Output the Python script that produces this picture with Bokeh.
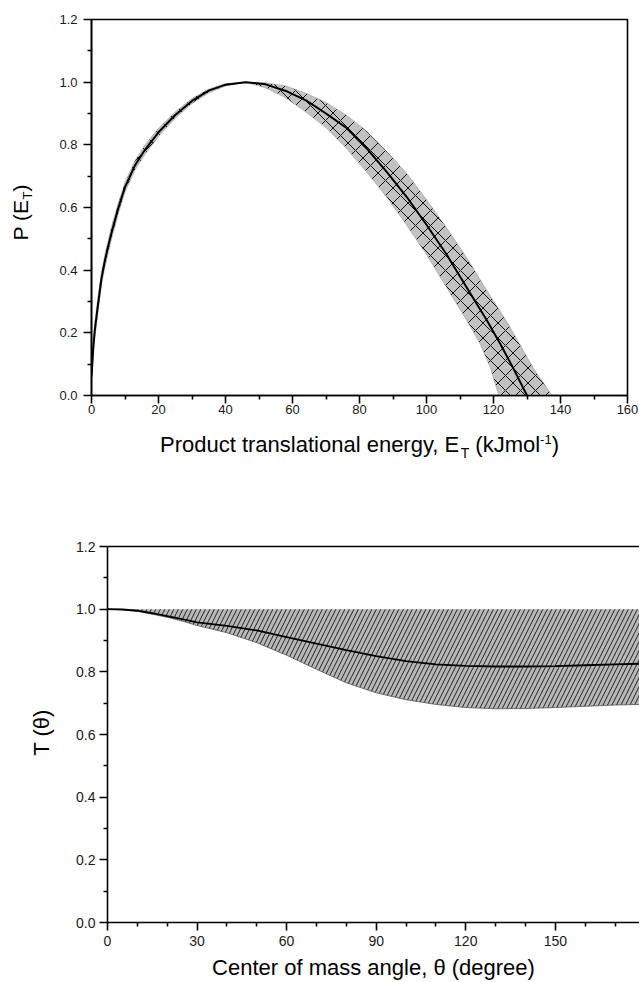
import math
from bokeh.plotting import figure
from bokeh.models import FixedTicker, Label, LinearAxis, Range1d
from bokeh.layouts import column, row
from bokeh.embed import file_html
from bokeh.resources import INLINE

# ---------------- data: upper panel, P(E_T) ----------------
energy_center = [0, 0.5, 1, 2, 3, 4, 5, 6, 8, 10, 13, 16, 20, 25, 30, 35, 40, 46,
                 52, 58, 64, 70, 76, 82, 88, 94, 100, 106, 112, 118, 122, 126, 130]
p_center = [0.06, 0.15, 0.21, 0.295, 0.375, 0.43, 0.477, 0.52, 0.598, 0.665, 0.735, 0.785,
            0.84, 0.895, 0.94, 0.973, 0.992, 1.0, 0.993, 0.972, 0.942, 0.90, 0.855, 0.79,
            0.715, 0.635, 0.545, 0.45, 0.345, 0.24, 0.165, 0.085, 0.0]

energy_outer = [0, 1, 2, 3, 4, 6, 8, 10, 13, 16, 20, 25, 30, 35, 40, 46,
                52, 58, 64, 70, 76, 82, 88, 94, 100, 106, 112, 118, 124, 128, 132, 137.5]
p_outer = [0.08, 0.235, 0.32, 0.395, 0.45, 0.54, 0.615, 0.68, 0.75, 0.80, 0.853, 0.905,
           0.948, 0.978, 0.995, 1.0, 0.998, 0.988, 0.965, 0.935, 0.895, 0.845, 0.78,
           0.71, 0.625, 0.535, 0.44, 0.335, 0.235, 0.16, 0.085, 0.0]

energy_inner = [0, 1, 2, 3, 4, 6, 8, 10, 13, 16, 20, 25, 30, 35, 40, 46,
                52, 58, 64, 70, 76, 82, 88, 94, 100, 106, 112, 116, 119, 121.6]
p_inner = [0.04, 0.185, 0.27, 0.355, 0.41, 0.50, 0.58, 0.65, 0.72, 0.77, 0.827, 0.885,
           0.932, 0.966, 0.988, 1.0, 0.982, 0.95, 0.905, 0.855, 0.79, 0.715, 0.635,
           0.545, 0.45, 0.345, 0.24, 0.165, 0.09, 0.0]

energy_ticks = [0, 20, 40, 60, 80, 100, 120, 140, 160]
energy_minor = [10, 30, 50, 70, 90, 110, 130, 150]
p_ticks = [0.0, 0.2, 0.4, 0.6, 0.8, 1.0, 1.2]
p_tick_labels = ["0.0", "0.2", "0.4", "0.6", "0.8", "1.0", "1.2"]
p_minor = [0.1, 0.3, 0.5, 0.7, 0.9, 1.1]

# ---------------- data: lower panel, T(theta) ----------------
theta = [0, 5, 10, 15, 20, 25, 30, 40, 50, 60, 70, 80, 90, 100, 110, 120, 130,
         140, 150, 160, 170, 179]
t_center = [1.0, 0.999, 0.995, 0.987, 0.978, 0.968, 0.958, 0.947, 0.932, 0.911, 0.89,
            0.869, 0.85, 0.834, 0.824, 0.819, 0.817, 0.817, 0.818, 0.821, 0.824, 0.826]
t_lower = [1.0, 0.999, 0.993, 0.984, 0.974, 0.962, 0.948, 0.925, 0.893, 0.853, 0.808,
           0.765, 0.733, 0.711, 0.696, 0.686, 0.682, 0.683, 0.686, 0.69, 0.694, 0.696]
t_upper = [1.0, 1.0, 1.0, 1.0, 1.0, 1.0, 1.0, 1.0, 1.0, 1.0, 1.0,
           1.0, 1.0, 1.0, 1.0, 1.0, 1.0, 1.0, 1.0, 1.0, 1.0, 1.0]

theta_ticks = [0, 30, 60, 90, 120, 150, 180]
theta_minor = [10, 20, 40, 50, 70, 80, 100, 110, 130, 140, 160, 170]
t_ticks = [0.0, 0.2, 0.4, 0.6, 0.8, 1.0, 1.2]
t_tick_labels = ["0.0", "0.2", "0.4", "0.6", "0.8", "1.0", "1.2"]
t_minor = [0.1, 0.3, 0.5, 0.7, 0.9, 1.1]

# ---------------- styling helpers ----------------
FONT = "Liberation Sans"
MID = 0.3465  # distance baseline -> em-box middle, in em
# Arial / Liberation Sans advance widths (per 1000 em), for placing sub/superscripts
ADV = {" ": 278, ",": 278, "(": 333, ")": 333, "-": 333, "1": 556, "P": 667, "E": 667,
       "T": 611, "J": 500, "r": 333, "o": 556, "d": 556, "u": 556, "c": 500, "t": 278,
       "a": 556, "n": 556, "s": 500, "l": 222, "i": 222, "e": 556, "g": 556, "y": 500,
       "k": 500, "m": 833}


def text_width(s, size):
    return sum(ADV.get(ch, 556) for ch in s) * size / 1000.0


def style_axes(p, xt, xminor, yt, ylabels, yminor, size, xstand, ystand):
    p.xaxis.ticker = FixedTicker(ticks=xt, minor_ticks=xminor)
    p.yaxis.ticker = FixedTicker(ticks=yt, minor_ticks=yminor)
    p.yaxis.major_label_overrides = {v: lab for v, lab in zip(yt, ylabels)}
    for ax in (p.xaxis[0], p.yaxis[0]):
        ax.axis_line_width = 1.6
        ax.axis_line_color = "black"
        ax.major_tick_line_width = 1.6
        ax.minor_tick_line_width = 1.6
        ax.major_tick_line_color = "black"
        ax.minor_tick_line_color = "black"
        ax.major_tick_out = 8
        ax.major_tick_in = 0
        ax.minor_tick_out = 4
        ax.minor_tick_in = 0
        ax.major_label_text_font = FONT
        ax.major_label_text_font_size = size
        ax.major_label_text_color = "#1a1a1a"
    p.xaxis.major_label_standoff = xstand
    p.yaxis.major_label_standoff = ystand
    p.grid.visible = False


def text_fig(w, h):
    f = figure(width=w, height=h, x_range=Range1d(0, w), y_range=Range1d(0, h),
               x_axis_type=None, y_axis_type=None, output_backend="svg",
               toolbar_location=None, min_border=0, outline_line_color=None,
               frame_align=False)
    f.grid.visible = False
    return f


def add_pieces(f, pieces, x, y, angle):
    """pieces: (text, size, baseline shift up, gap before) written one after another.
    (x, y) is the start of the baseline."""
    pos = 0.0
    for txt, size, shift, gap in pieces:
        pos += gap
        up = shift + MID * size
        if angle == 0:
            px, py = x + pos, y + up
        else:
            px, py = x - up, y + pos
        f.add_layout(Label(x=px, y=py, text=txt, text_font=FONT,
                           text_font_size=f"{size}px", text_color="black",
                           text_align="left", text_baseline="middle", angle=angle))
        pos += text_width(txt, size)
    return pos


def pieces_width(pieces):
    return sum(text_width(t, s) + g for t, s, _, g in pieces)


# ---------------- upper panel ----------------
p1 = figure(width=599, height=431, x_range=Range1d(0, 160), y_range=Range1d(0, 1.2),
            output_backend="svg", toolbar_location=None, frame_align=False,
            min_border_left=51, min_border_right=12, min_border_top=19, min_border_bottom=36)
p1.outline_line_color = "black"
p1.outline_line_width = 1.6
style_axes(p1, energy_ticks, energy_minor, p_ticks, p_tick_labels, p_minor, "13px", 1, 6)

band_x = energy_outer + energy_inner[::-1]
band_y = p_outer + p_inner[::-1]
p1.patch(band_x, band_y, fill_color="#c2c2c2", line_color="#9a9a9a", line_width=0.6,
         hatch_pattern="diagonal_cross", hatch_color="#111111", hatch_scale=15,
         hatch_weight=1.0)
p1.line(energy_center, p_center, line_color="black", line_width=2)

# y title of upper panel (rotated, with subscript)
yt1 = text_fig(40, 431)
yt_pieces = [("P (E", 21, 0, 0), ("T", 13, -5, 0), (")", 21, 0, 0)]
add_pieces(yt1, yt_pieces, 27, 219 - pieces_width(yt_pieces) / 2, math.pi / 2)

# x title of upper panel (with subscript and superscript)
xt1 = text_fig(639, 47)
xt_pieces = [("Product translational energy, E", 22, 0, 0), ("T", 14, -5, 0),
             ("(kJmol", 22, 0, 6), ("-1", 13, 8, 0), (")", 22, 0, 0)]
add_pieces(xt1, xt_pieces, 359 - pieces_width(xt_pieces) / 2, 26, 0)

# ---------------- lower panel ----------------
p2 = figure(width=583, height=474, x_range=Range1d(0, 178.2), y_range=Range1d(0, 1.2),
            output_backend="svg", toolbar_location=None, frame_align=False,
            min_border_left=51, min_border_right=0, min_border_top=68, min_border_bottom=30)
p2.outline_line_color = None
style_axes(p2, theta_ticks, theta_minor, t_ticks, t_tick_labels, t_minor, "14px", 5, 4)
top_axis = LinearAxis(ticker=FixedTicker(ticks=[]), major_label_text_font_size="0px",
                      major_tick_out=0, minor_tick_out=0, axis_line_width=1.6,
                      axis_line_color="black")
p2.add_layout(top_axis, "above")

p2.varea(x=theta, y1=t_lower, y2=t_upper, fill_color="#b8b8b8",
         hatch_pattern="right_diagonal_line", hatch_color="#222222", hatch_scale=9,
         hatch_weight=1.0)
p2.line(theta, t_lower, line_color="#555555", line_width=0.8)
p2.line(theta, t_center, line_color="black", line_width=1.8)

yt2 = text_fig(56, 474)
yt2.add_layout(Label(x=49 - MID * 22, y=220, text="T (θ)", text_font=FONT,
                     text_font_size="22px", text_color="black", text_align="center",
                     text_baseline="middle", angle=math.pi / 2))

xt2 = text_fig(639, 29)
xt2.add_layout(Label(x=373, y=6 + MID * 22, text="Center of mass angle, θ (degree)",
                     text_font=FONT, text_font_size="22px", text_color="black",
                     text_align="center", text_baseline="middle"))

layout = column(row(yt1, p1, spacing=0), xt1, row(yt2, p2, spacing=0), xt2, spacing=0)
open("out.html", "w").write(file_html(layout, INLINE))
